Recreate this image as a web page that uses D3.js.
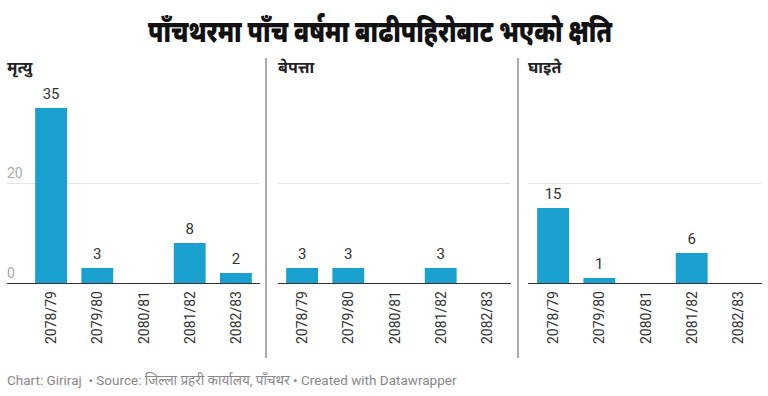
<!DOCTYPE html>
<html>
<head>
<meta charset="utf-8">
<script src="https://cdn.jsdelivr.net/npm/d3@7"></script>
<style>
  body { margin: 0; background: #fff; }
  svg { display: block; font-family: Roboto, "Noto Sans", sans-serif; }
</style>
</head>
<body>
<svg id="chart"></svg>
<script>
let width = 768;
let height = 396;
let blue = "#1aa0cf";

let years = ["2078/79", "2079/80", "2080/81", "2081/82", "2082/83"];
let deaths = [35, 3, null, 8, 2];
let missing = [3, 3, null, 3, null];
let injured = [15, 1, null, 6, null];
let panelTitles = ["मृत्यु", "बेपत्ता", "घाइते"];
let yTicks = [0, 20];

let svg = d3.select("#chart")
  .attr("width", width)
  .attr("height", height);

// title is a condensed face in the original, squeeze to its width
svg.append("text")
  .text("पाँचथरमा पाँच वर्षमा बाढीपहिरोबाट भएको क्षति")
  .attr("x", 148)
  .attr("y", 42)
  .attr("textLength", 464)
  .attr("lengthAdjust", "spacingAndGlyphs")
  .attr("font-size", 31)
  .attr("font-weight", 900)
  .attr("fill", "#111");

let yax = d3.scaleLinear()
  .domain([0, 35])
  .range([283, 108]);

// panel positions: grid start, band start, band end
let panels = [
  { title: panelTitles[0], values: deaths, grid: 7, x0: 28, x1: 259, labels: true },
  { title: panelTitles[1], values: missing, grid: 278, x0: 279, x1: 510, labels: false },
  { title: panelTitles[2], values: injured, grid: 528, x0: 530, x1: 761, labels: false }
];

// separators
[266, 518].forEach(x => {
  svg.append("line")
    .attr("x1", x).attr("x2", x)
    .attr("y1", 58).attr("y2", 358)
    .attr("stroke", "#555")
    .attr("stroke-width", 1);
});

panels.forEach(p => {
  let g = svg.append("g");
  let xax = d3.scaleBand()
    .domain(years)
    .range([p.x0, p.x1])
    .paddingInner(0.31)
    .paddingOuter(0.155);

  g.append("text")
    .text(p.title)
    .attr("x", p.grid)
    .attr("y", 73)
    .attr("font-size", 16)
    .attr("font-weight", 700)
    .attr("fill", "#222");

  // gridlines
  g.selectAll(".grid")
    .data(yTicks.filter(d => d > 0))
    .enter()
      .append("line")
      .attr("x1", p.grid)
      .attr("x2", p.x1)
      .attr("y1", d => Math.round(yax(d)) + 0.5)
      .attr("y2", d => Math.round(yax(d)) + 0.5)
      .attr("stroke", "#e3e3e3");

  if (p.labels) {
    g.selectAll(".tick")
      .data(yTicks)
      .enter()
        .append("text")
        .text(d => d)
        .attr("x", p.grid)
        .attr("y", d => yax(d) - 5)
        .attr("font-size", 14)
        .attr("fill", "#aaa");
  }

  let data = years.map((y, i) => ({ year: y, value: p.values[i] }));

  g.selectAll("rect")
    .data(data.filter(d => d.value != null))
    .enter()
      .append("rect")
      .attr("x", d => xax(d.year))
      .attr("y", d => yax(d.value))
      .attr("width", xax.bandwidth())
      .attr("height", d => yax(0) - yax(d.value))
      .attr("fill", blue);

  g.selectAll(".val")
    .data(data.filter(d => d.value != null))
    .enter()
      .append("text")
      .text(d => d.value)
      .attr("x", d => xax(d.year) + xax.bandwidth() / 2)
      .attr("y", d => yax(d.value) - 9)
      .attr("text-anchor", "middle")
      .attr("font-size", 15)
      .attr("fill", "#333");

  // baseline
  g.append("line")
    .attr("x1", p.grid)
    .attr("x2", p.x1 + 1)
    .attr("y1", yax(0) + 0.5)
    .attr("y2", yax(0) + 0.5)
    .attr("stroke", "#333")
    .attr("stroke-width", 1.2);

  g.selectAll(".xlab")
    .data(years)
    .enter()
      .append("text")
      .text(d => d)
      .attr("transform", d => `translate(${xax(d) + xax.bandwidth() / 2 + 5}, 291) rotate(-90)`)
      .attr("text-anchor", "end")
      .attr("font-size", 14)
      .attr("fill", "#333");
});

svg.append("text")
  .text("Chart: Giriraj  • Source: जिल्ला प्रहरी कार्यालय, पाँचथर • Created with Datawrapper")
  .attr("x", 7)
  .attr("y", 385)
  .attr("font-size", 13.5)
  .attr("fill", "#888")
  .style("white-space", "pre");
</script>
</body>
</html>
